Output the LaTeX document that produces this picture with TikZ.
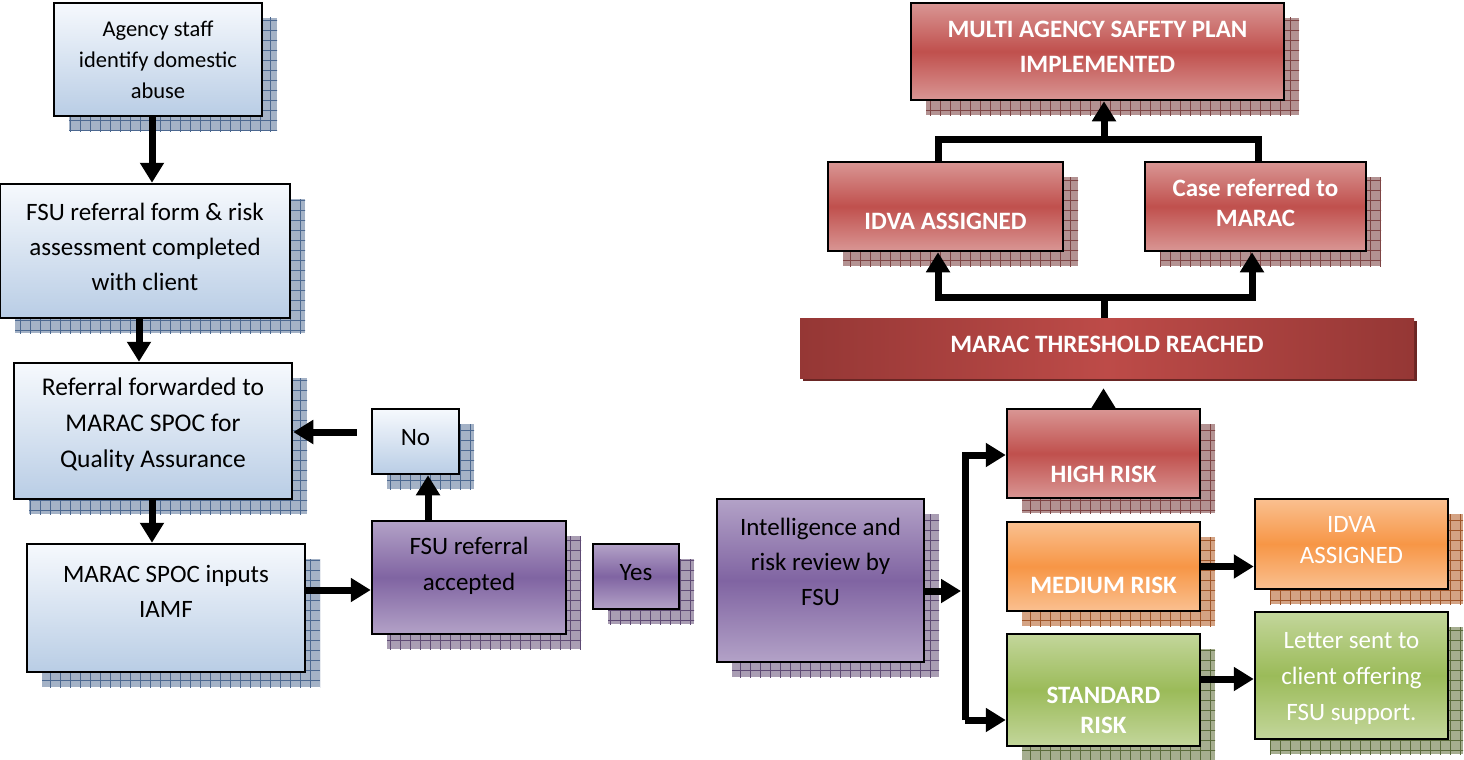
\documentclass[tikz,border=0pt]{standalone}
\usepackage{fontspec}
\setmainfont{Carlito}
\usetikzlibrary{arrows.meta}

\definecolor{bluetop}{HTML}{F6F9FD}
\definecolor{bluebot}{HTML}{B9CDE5}
\definecolor{blueshade}{HTML}{A4B2C6}
\definecolor{bluegridc}{HTML}{4C6890}
\definecolor{purplelt}{HTML}{B3A2C7}
\definecolor{purpledk}{HTML}{8064A2}
\definecolor{purpleshade}{HTML}{A99DB3}
\definecolor{purplegridc}{HTML}{5E4A74}
\definecolor{redlt}{HTML}{D99694}
\definecolor{reddk}{HTML}{C0504D}
\definecolor{redshade}{HTML}{B39292}
\definecolor{redgridc}{HTML}{7E4444}
\definecolor{orangelt}{HTML}{FAC090}
\definecolor{orangedk}{HTML}{F79646}
\definecolor{orangeshade}{HTML}{D4A384}
\definecolor{orangegridc}{HTML}{A0562A}
\definecolor{greenlt}{HTML}{C3D69B}
\definecolor{greendk}{HTML}{9BBB59}
\definecolor{greenshade}{HTML}{A6AE90}
\definecolor{greengridc}{HTML}{5B6B3C}
\definecolor{bardk}{HTML}{953735}
\definecolor{barlt}{HTML}{BD4B48}
\definecolor{barshade}{HTML}{6A2624}

\tikzset{
  boxframe/.style={draw=black, line width=2.5pt, inner sep=0pt},
  bluebox/.style={boxframe, top color=bluetop, bottom color=bluebot},
  purplebox/.style={boxframe, top color=purplelt, bottom color=purplelt, middle color=purpledk},
  redbox/.style={boxframe, top color=redlt, bottom color=redlt, middle color=reddk},
  orangebox/.style={boxframe, top color=orangelt, bottom color=orangelt, middle color=orangedk},
  greenbox/.style={boxframe, top color=greenlt, bottom color=greenlt, middle color=greendk},
  blueshadow/.style={fill=blueshade}, bluegrid/.style={bluegridc, line width=0.7pt, step=10pt},
  purpleshadow/.style={fill=purpleshade}, purplegrid/.style={purplegridc, line width=0.7pt, step=10pt},
  redshadow/.style={fill=redshade}, redgrid/.style={redgridc, line width=0.7pt, step=10pt},
  orangeshadow/.style={fill=orangeshade}, orangegrid/.style={orangegridc, line width=0.7pt, step=10pt},
  greenshadow/.style={fill=greenshade}, greengrid/.style={greengridc, line width=0.7pt, step=10pt},
  plaintext/.style={align=center, inner sep=0pt, font=\fontsize{25}{35}\selectfont},
  boldtext/.style={align=center, inner sep=0pt, text=white, font=\bfseries\fontsize{25}{35}\selectfont},
  whitetext/.style={align=center, inner sep=0pt, text=white, font=\fontsize{25}{31}\selectfont},
  flow/.style={line width=7pt, -{Triangle[length=20pt, width=23pt]}},
  joint/.style={line width=7pt},
}

% box with hatched drop shadow: name, x1, y1, x2, y2, colour, text y, text style, text
\newcommand{\flowbox}[9]{%
  \fill[#6shadow] (#2+15,#3+15) rectangle (#4+15,#5+15);
  \begin{scope}
    \clip (#2+15,#3+15) rectangle (#4+15,#5+15);
    \draw[#6grid] (#2,#3) grid (#4+20,#5+20);
  \end{scope}
  \pgfmathsetmacro\boxw{#4-#2}
  \pgfmathsetmacro\boxh{#5-#3}
  \node[#6box, minimum width=\boxw pt, minimum height=\boxh pt] (#1) at ({(#2+#4)/2},{(#3+#5)/2}) {};
  \node[#8] (#1-txt) at ({(#2+#4)/2},#7) {#9};
}

\begin{document}
\begin{tikzpicture}[x=1pt, y=-1pt]
    \useasboundingbox (0,0) rectangle (1464,760);

    % left column
    \flowbox{agency}{54}{3}{262}{116}{blue}{60}{plaintext, font=\fontsize{22.5}{31}\selectfont}{Agency staff\\identify domestic\\abuse}
    \flowbox{form}{0}{184}{290}{318}{blue}{247}{plaintext}{FSU referral form \& risk\\assessment completed\\with client}
    \flowbox{fwd}{14}{363}{292}{499}{blue}{425}{plaintext, font=\fontsize{25.5}{36}\selectfont}{Referral forwarded to\\MARAC SPOC for\\Quality Assurance}
    \flowbox{inputs}{27}{544}{305}{672}{blue}{591}{plaintext}{MARAC SPOC inputs\\IAMF}
    \flowbox{no}{372}{409}{459}{474}{blue}{438}{plaintext}{No}
    \flowbox{accepted}{372}{521}{566}{634}{purple}{566}{plaintext, font=\fontsize{25}{36}\selectfont}{FSU referral\\accepted}
    \flowbox{yes}{593}{544}{679}{609}{purple}{573}{plaintext}{Yes}
    \flowbox{review}{717}{499}{924}{662}{purple}{562}{plaintext}{Intelligence and\\risk review by\\FSU}

    % right side
    \flowbox{multi}{911}{3}{1284}{100}{red}{47}{boldtext}{MULTI AGENCY SAFETY PLAN\\IMPLEMENTED}
    \flowbox{idvared}{828}{162}{1063}{251}{red}{221}{boldtext}{IDVA ASSIGNED}
    \flowbox{marac}{1145}{162}{1366}{251}{red}{203}{boldtext, font=\bfseries\fontsize{25}{30}\selectfont}{Case referred to\\MARAC}
    \flowbox{high}{1007}{409}{1200}{498}{red}{474}{boldtext}{HIGH RISK}
    \flowbox{medium}{1007}{522}{1200}{611}{orange}{585}{boldtext}{MEDIUM RISK}
    \flowbox{standard}{1007}{634}{1200}{746}{green}{710}{boldtext, font=\bfseries\fontsize{25}{30}\selectfont}{STANDARD\\RISK}
    \flowbox{idvaorange}{1255}{499}{1448}{589}{orange}{540}{whitetext}{IDVA\\ASSIGNED}
    \flowbox{letter}{1255}{612}{1448}{739}{green}{678}{whitetext, font=\fontsize{25}{36}\selectfont}{Letter sent to\\client offering\\FSU support.}

    % threshold bar
    \fill[barshade] (803,321) rectangle (1417,381);
    \node[left color=bardk, right color=bardk, middle color=barlt, minimum width=614pt, minimum height=60pt, inner sep=0pt] (threshold) at (1107,348) {};
    \node[boldtext, font=\bfseries\fontsize{25}{30}\selectfont] (threshold-txt) at (1107,344) {MARAC THRESHOLD REACHED};

    % connectors
    \draw[flow] (agency.south -| 152,0) -- (form.north -| 152,0);
    \draw[flow] (form.south -| 139,0) -- (fwd.north -| 139,0);
    \draw[flow] (fwd.south -| 152,0) -- (inputs.north -| 152,0);
    \draw[flow] (inputs.east |- 0,590) -- (accepted.west |- 0,590);
    \draw[flow] (accepted.north -| 428,0) -- (no.south -| 428,0);
    \draw[flow, shorten <=14pt] (no.west |- 0,432) -- (fwd.east |- 0,432);

    \coordinate (splittop) at (965,455);
    \coordinate (splitbot) at (965,720);
    \draw[flow] (review.east |- 0,591) -- (961,591);
    \draw[flow] (splitbot) -- (splittop) -- (high.west |- splittop);
    \draw[flow] (splitbot) -- (standard.west |- splitbot);
    \draw[flow] (medium.east) -- (idvaorange.west |- medium.east);
    \draw[flow] (standard.east |- 0,679) -- (letter.west |- 0,679);

    \draw[flow, shorten >=10pt] (high.north) -- (high.north |- threshold.south);
    \coordinate (lowbar) at (1104,297);
    \draw[joint] (threshold.north -| lowbar) -- (lowbar);
    \draw[flow] (1252,297) -- (938,297) -- (idvared.south -| 938,0);
    \draw[flow] (938,297) -- (1252,297) -- (marac.south -| 1252,0);
    \coordinate (highbar) at (1104,139);
    \draw[joint] (idvared.north -| 938,0) |- (1258,139) -- (marac.north -| 1258,0);
    \draw[flow] (highbar) -- (multi.south -| highbar);
\end{tikzpicture}
\end{document}
